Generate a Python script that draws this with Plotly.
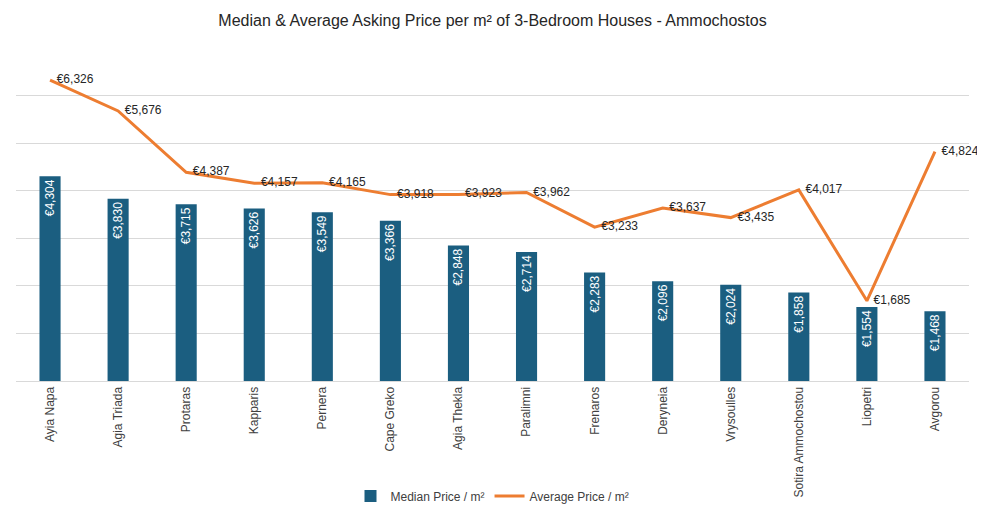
import plotly.graph_objects as go

areas = ["Ayia Napa", "Agia Triada", "Protaras", "Kapparis", "Pernera", "Cape Greko",
         "Agia Thekla", "Paralimni", "Frenaros", "Deryneia", "Vrysoulles",
         "Sotira Ammochostou", "Liopetri", "Avgorou"]
median_price = [4304, 3830, 3715, 3626, 3549, 3366, 2848, 2714, 2283, 2096, 2024, 1858, 1554, 1468]
average_price = [6326, 5676, 4387, 4157, 4165, 3918, 3923, 3962, 3233, 3637, 3435, 4017, 1685, 4824]

FONT = "Liberation Sans Narrow, Arial Narrow, Liberation Sans, Arial"
# page body has an 8px margin, so the figure is 16px smaller than the window
W, H = 969, 504
ml, mr, mt, mb = 8, 8, 40, 131
pw, ph = W - ml - mr, H - mt - mb

fig = go.Figure()
fig.add_trace(go.Bar(
    x=areas, y=median_price, name="Median Price / m²",
    marker=dict(color="#1B5E80", line=dict(width=0)),
    width=0.31,
    texttemplate="€%{y:,.0f}", textposition="inside", insidetextanchor="end",
    textangle=-90, textfont=dict(color="white", size=12, family=FONT),
))
fig.add_trace(go.Scatter(
    x=areas, y=average_price, name="Average Price / m²", mode="lines+text",
    line=dict(color="#ED7D31", width=3),
    texttemplate="  €%{y:,.0f}", textposition="middle right",
    textfont=dict(color="#262626", size=12, family=FONT),
    cliponaxis=False,
))

fig.update_layout(
    width=W, height=H,
    margin=dict(l=ml, r=mr, t=mt, b=mb, autoexpand=False),
    paper_bgcolor="white", plot_bgcolor="white",
    font=dict(family=FONT, color="#404040"),
    title=dict(text="Median & Average Asking Price per m² of 3-Bedroom Houses - Ammochostos",
               x=0.5, xanchor="center", y=1 - 12 / H, yanchor="middle",
               font=dict(size=16, color="#262626", family=FONT)),
    xaxis=dict(tickangle=-90, tickfont=dict(size=12, color="#404040"),
               range=[-0.5, len(areas) - 0.5], automargin=False,
               showgrid=False, showline=True, linecolor="#D9D9D9", linewidth=1,
               ticks=""),
    yaxis=dict(range=[0, 7000], dtick=1000, showticklabels=False, automargin=False,
               showgrid=True, gridcolor="#D9D9D9", gridwidth=1, zeroline=False),
    legend=dict(orientation="h", x=0.5, xanchor="center", y=-115 / ph, yanchor="middle",
                font=dict(size=12, color="#404040"), traceorder="normal"),
    showlegend=True,
)

fig.write_html("out.html")
